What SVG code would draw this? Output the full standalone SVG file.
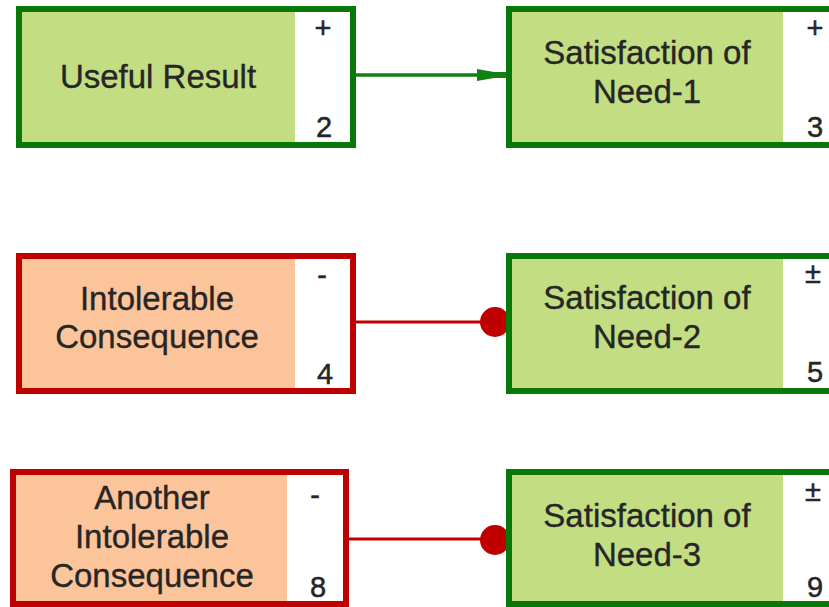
<svg xmlns="http://www.w3.org/2000/svg" width="829" height="607" viewBox="0 0 829 607">
  <style>
    .pos { fill: #c2dd82; stroke: #087808; stroke-width: 6; }
    .neg { fill: #fcc49b; stroke: #be0000; stroke-width: 6; }
    .tag { fill: #ffffff; }
    .lbl { font-family: "Liberation Sans", Arial, sans-serif; font-size: 33px; fill: #262626; stroke: #262626; stroke-width: 0.35; text-anchor: middle; }
    .sm { font-family: "Liberation Sans", Arial, sans-serif; font-size: 29px; fill: #262626; stroke: #262626; stroke-width: 0.5; text-anchor: middle; }
    .useful { stroke: #118211; stroke-width: 3.5; fill: none; }
    .harm { stroke: #c00000; stroke-width: 3; fill: none; }
  </style>

  <g id="connectors">
    <line class="useful" x1="356" y1="75" x2="480" y2="75"/>
    <path d="M477,69 L477,81 L494,78 L508,78 L508,72 L494,72 Z" fill="#118211"/>
    <line class="harm" x1="356" y1="322" x2="490" y2="322"/>
    <circle cx="495" cy="322" r="15" fill="#c00000"/>
    <line class="harm" x1="349" y1="539" x2="490" y2="539"/>
    <circle cx="495" cy="540" r="15" fill="#c00000"/>
  </g>

  <g id="node-2">
    <rect class="pos" x="19" y="9" width="334" height="136"/>
    <rect class="tag" x="295" y="12" width="55" height="130"/>
    <text class="lbl" x="158" y="88">Useful Result</text>
    <text class="sm" x="323" y="38">+</text>
    <text class="sm" x="324" y="137">2</text>
  </g>

  <g id="node-3">
    <rect class="pos" x="509" y="9" width="400" height="136"/>
    <rect class="tag" x="783" y="12" width="60" height="130"/>
    <text class="lbl" x="647" y="64">Satisfaction of</text>
    <text class="lbl" x="647" y="103">Need-1</text>
    <text class="sm" x="815" y="38">+</text>
    <text class="sm" x="815" y="137">3</text>
  </g>

  <g id="node-4">
    <rect class="neg" x="19" y="256" width="334" height="135"/>
    <rect class="tag" x="295" y="259" width="55" height="129"/>
    <text class="lbl" x="157" y="310">Intolerable</text>
    <text class="lbl" x="157" y="348">Consequence</text>
    <text class="sm" x="322" y="285">-</text>
    <text class="sm" x="325" y="384">4</text>
  </g>

  <g id="node-5">
    <rect class="pos" x="509" y="256" width="400" height="135"/>
    <rect class="tag" x="783" y="259" width="60" height="129"/>
    <text class="lbl" x="647" y="309">Satisfaction of</text>
    <text class="lbl" x="647" y="348">Need-2</text>
    <text class="sm" x="813" y="283">±</text>
    <text class="sm" x="815" y="382">5</text>
  </g>

  <g id="node-8">
    <rect class="neg" x="13" y="472" width="333" height="132"/>
    <rect class="tag" x="287" y="475" width="56" height="126"/>
    <text class="lbl" x="152" y="509">Another</text>
    <text class="lbl" x="152" y="548">Intolerable</text>
    <text class="lbl" x="152" y="587">Consequence</text>
    <text class="sm" x="315" y="505">-</text>
    <text class="sm" x="318" y="597">8</text>
  </g>

  <g id="node-9">
    <rect class="pos" x="509" y="472" width="400" height="132"/>
    <rect class="tag" x="783" y="475" width="60" height="126"/>
    <text class="lbl" x="647" y="527">Satisfaction of</text>
    <text class="lbl" x="647" y="566">Need-3</text>
    <text class="sm" x="813" y="501">±</text>
    <text class="sm" x="815" y="597">9</text>
  </g>
</svg>
